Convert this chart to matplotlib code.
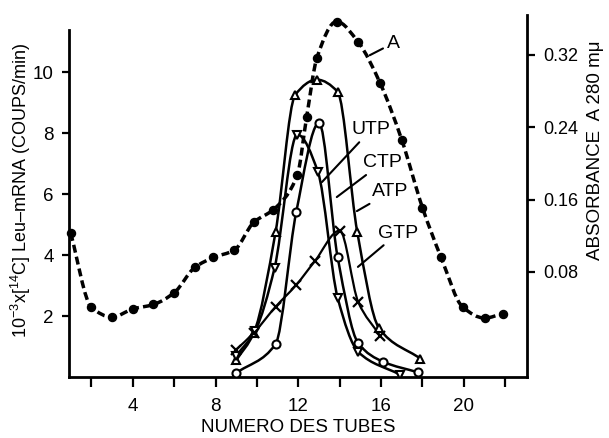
# -*- coding: utf-8 -*-
# Gradijent tubusa: Leu-mRNA aktivnost (ATP/UTP/CTP/GTP) i apsorbanca A 280 mu

import numpy as np
import matplotlib
matplotlib.use('Agg')
import matplotlib.pyplot as plt
from matplotlib.path import Path
from matplotlib.patches import PathPatch

# %% podaci (ocitano sa slike)

a_tube = [1, 2, 3, 4, 5, 6, 7, 7.9, 8.9, 9.85, 10.8, 11.95, 12.4, 12.9, 13.85,
          14.9, 15.95, 17, 18, 18.9, 19.95, 21, 21.9]
a_abs = [0.123, 0.041, 0.030, 0.039, 0.044, 0.057, 0.085, 0.096, 0.104, 0.135,
         0.149, 0.187, 0.251, 0.317, 0.357, 0.334, 0.289, 0.226, 0.151, 0.096,
         0.041, 0.029, 0.034]

atp_tube = [9.0, 9.85, 10.9, 11.85, 12.9, 13.9, 14.85, 15.9, 17.9]
atp = [0.55, 1.45, 4.75, 9.25, 9.75, 9.35, 4.75, 1.6, 0.6]

utp_tube = [9.0, 9.9, 10.85, 11.95, 12.95, 13.9, 14.9, 16.9]
utp = [0.7, 1.5, 3.57, 7.95, 6.72, 2.6, 0.82, 0.08]

ctp_tube = [9.0, 10.9, 11.9, 13.0, 13.9, 14.9, 16.1, 17.8]
ctp = [0.13, 1.08, 5.41, 8.33, 3.93, 1.1, 0.5, 0.15]

gtp_tube = [9.0, 9.85, 10.9, 11.9, 12.8, 14.0, 14.9, 15.95]
gtp = [0.9, 1.45, 2.3, 3.02, 3.8, 4.8, 2.45, 1.35]

x_ticks = list(range(2, 23, 2))
x_labels = ['' if t % 4 else str(t) for t in x_ticks]
y_ticks = [2, 4, 6, 8, 10]
abs_ticks = [0.08, 0.16, 0.24, 0.32]
abs_labels = ['0.08', '0.16', '0.24', '0.32']

# %% stil

plt.rcParams['font.family'] = ['Liberation Sans', 'DejaVu Sans']
plt.rcParams['mathtext.fontset'] = 'custom'
plt.rcParams['mathtext.rm'] = 'Liberation Sans'
plt.rcParams['mathtext.it'] = 'Liberation Sans:italic'
plt.rcParams['mathtext.bf'] = 'Liberation Sans:bold'


def smooth_path(x, y):
    # glatka kriva kroz tacke, monotoni kubni Hermite (PCHIP) zapisan kao Bezier
    x = np.asarray(x, float)
    y = np.asarray(y, float)
    h = np.diff(x)
    d = np.diff(y) / h
    m = np.zeros(len(x))
    m[0], m[-1] = d[0], d[-1]
    for k in range(1, len(x) - 1):
        if d[k - 1] * d[k] > 0:
            w1 = 2 * h[k] + h[k - 1]
            w2 = h[k] + 2 * h[k - 1]
            m[k] = (w1 + w2) / (w1 / d[k - 1] + w2 / d[k])
    verts = [(x[0], y[0])]
    codes = [Path.MOVETO]
    for k in range(len(x) - 1):
        verts += [(x[k] + h[k] / 3, y[k] + m[k] * h[k] / 3),
                  (x[k + 1] - h[k] / 3, y[k + 1] - m[k + 1] * h[k] / 3),
                  (x[k + 1], y[k + 1])]
        codes += [Path.CURVE4] * 3
    return Path(verts, codes)


# %% grafik

fig = plt.figure(figsize=(6.09, 4.38), dpi=100)
ax = fig.add_axes([69 / 609, 61 / 438, 458 / 609, 362 / 438])
ax2 = ax.twinx()

ax.set_xlim(0.92, 23.05)
ax.set_ylim(0, 11.87)
ax2.set_ylim(-0.0362, 0.3642)

ax.set_zorder(ax2.get_zorder() + 1)
ax.patch.set_visible(False)

# kriva A (apsorbanca) na desnoj osi
ax2.add_patch(PathPatch(smooth_path(a_tube, a_abs), fill=False, lw=2.5,
                        ls=(0, (2.3, 1.2)), color='black'))
ax2.plot(a_tube, a_abs, ls='none', marker='o', ms=5.8, color='black',
         clip_on=False)

curves = [
    (atp_tube, atp, '^', 6.2),
    (utp_tube, utp, 'v', 6.2),
    (ctp_tube, ctp, 'o', 5.8),
]
for xs, ys, mk, ms in curves:
    ax.add_patch(PathPatch(smooth_path(xs, ys), fill=False, lw=1.8,
                           color='black', zorder=2))
    ax.plot(xs, ys, ls='none', marker=mk, ms=ms, mfc='white', mec='black',
            mew=1.5, zorder=3)

ax.add_patch(PathPatch(smooth_path(gtp_tube, gtp), fill=False, lw=1.6,
                       color='black', zorder=2))
ax.plot(gtp_tube, gtp, ls='none', marker='x', ms=7, mec='black', mew=1.6,
        zorder=3)

# oznake krivih
lead = dict(arrowstyle='-', lw=1.5, color='black', shrinkA=1, shrinkB=0)
ax.annotate('A', xy=(15.45, 10.55), xytext=(16.6, 10.95), fontsize=14,
            ha='center', va='center', arrowprops=lead)
ax.annotate('UTP', xy=(13.14, 6.39), xytext=(15.5, 8.1), fontsize=14,
            ha='center', va='center', arrowprops=lead)
ax.annotate('CTP', xy=(13.86, 5.9), xytext=(16.05, 7.02), fontsize=14,
            ha='center', va='center', arrowprops=lead)
ax.annotate('ATP', xy=(14.83, 5.44), xytext=(16.45, 6.07), fontsize=14,
            ha='center', va='center', arrowprops=lead)
ax.annotate('GTP', xy=(14.88, 3.61), xytext=(16.82, 4.72), fontsize=14,
            ha='center', va='center', arrowprops=lead)

# ose
for s in ['top', 'right']:
    ax.spines[s].set_visible(False)
for s in ['top', 'left', 'bottom']:
    ax2.spines[s].set_visible(False)
ax.spines['left'].set_bounds(0, 11.38)
for sp in [ax.spines['left'], ax.spines['bottom'], ax2.spines['right']]:
    sp.set_linewidth(2.0)

ax.set_xticks(x_ticks)
ax.set_xticklabels(x_labels)
ax.set_yticks(y_ticks)
ax2.set_yticks(abs_ticks)
ax2.set_yticklabels(abs_labels)

ax.tick_params(axis='x', direction='out', length=7, width=1.6, labelsize=13.5, pad=8)
ax.tick_params(axis='y', direction='out', length=5, width=1.6, labelsize=13.5, pad=6)
ax2.tick_params(axis='y', direction='out', length=6, width=1.6, labelsize=13, pad=6)

ax.set_xlabel('NUMERO DES TUBES', fontsize=13.5, labelpad=3)
fig.text(21 / 609, 1 - 190 / 438,
         r'10$^{-3}$x[$^{14}$C] Leu–mRNA (COUPS/min)',
         rotation=90, ha='center', va='center', fontsize=13)
fig.text(596 / 609, 1 - 150 / 438, 'ABSORBANCE  A 280 mμ',
         rotation=90, ha='center', va='center', fontsize=13.5)

plt.savefig('out.png', dpi=100)
